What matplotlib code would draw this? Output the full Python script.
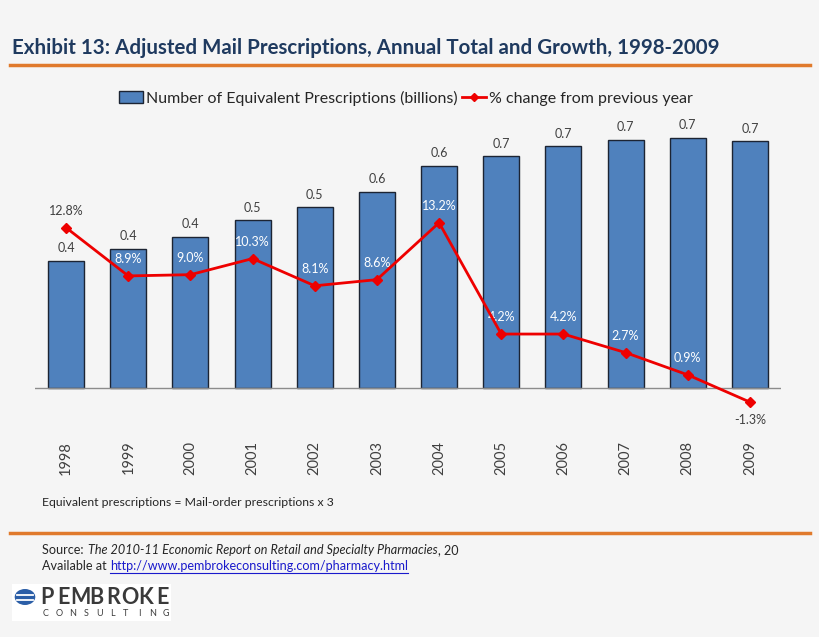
"""Exhibit 13: adjusted mail prescriptions, annual total and growth, 1998-2009."""
import matplotlib
matplotlib.use("Agg")
import matplotlib.pyplot as plt
from matplotlib.lines import Line2D
from matplotlib.patches import Patch, Rectangle, Circle

years = ["1998", "1999", "2000", "2001", "2002", "2003",
         "2004", "2005", "2006", "2007", "2008", "2009"]
scripts_bn = [0.363, 0.397, 0.431, 0.478, 0.515, 0.559,
              0.634, 0.661, 0.689, 0.707, 0.713, 0.703]
pct_change = [12.8, 8.9, 9.0, 10.3, 8.1, 8.6, 13.2, 4.2, 4.2, 2.7, 0.9, -1.3]

bar_label = "Number of Equivalent Prescriptions (billions)"
line_label = "% change from previous year"
title = "Exhibit 13: Adjusted Mail Prescriptions, Annual Total and Growth, 1998-2009"

W, H = 820, 637
BG = "#f5f5f5"
ORANGE = "#e07a2c"
NAVY = "#1f3a5f"
BLUE = "#4f81bd"
RED = "#ee0000"
GREY = "#404040"

plt.rcParams["font.family"] = ["Lato", "DejaVu Sans"]


def fx(x):
    return x / W


def fy(y):
    return 1 - y / H


fig = plt.figure(figsize=(W / 100, H / 100), dpi=100, facecolor=BG)

# ---- header -------------------------------------------------------------- #
fig.text(fx(12), fy(48), title, fontsize=14.8, fontweight="bold", color=NAVY,
         va="center", ha="left")
fig.add_artist(Line2D([fx(10), fx(810)], [fy(65), fy(65)], color=ORANGE, lw=2.5))

# ---- chart --------------------------------------------------------------- #
ax = fig.add_axes([fx(35), fy(420), fx(781) - fx(35), fy(115) - fy(420)])
ax.set_facecolor("none")
x = list(range(len(years)))
ax.bar(x, scripts_bn, width=0.58, color=BLUE, edgecolor="#1c2433", lw=1, zorder=2)
ax.axhline(0, color="#8c8c8c", lw=1, zorder=3)
ax.set_xlim(-0.5, len(years) - 0.5)
ax.set_ylim(-(420 - 388) * 0.00285, (388 - 115) * 0.00285)
for i, v in zip(x, scripts_bn):
    ax.annotate(f"{v:.1f}", (i, v), xytext=(0, 9), textcoords="offset points",
                ha="center", va="center", fontsize=9, color=GREY)
ax.set_xticks(x)
ax.set_xticklabels(years, rotation=90, fontsize=10.5, color=GREY)
ax.tick_params(axis="x", length=0, pad=15)
ax.set_yticks([])
for s in ax.spines.values():
    s.set_visible(False)

ax2 = ax.twinx()
ax2.plot(x, pct_change, color=RED, lw=2, marker="D", ms=5.5, zorder=4)
px_per_pct = 12.37
ax2.set_ylim(-(420 - 386) / px_per_pct, (386 - 115) / px_per_pct)
ax2.set_yticks([])
for s in ax2.spines.values():
    s.set_visible(False)

fig.canvas.draw()
for i, (v, p) in enumerate(zip(scripts_bn, pct_change)):
    top = ax.transData.transform((i, v))[1]
    pt = ax2.transData.transform((i, p))[1]
    if p < 0:
        off, col = -13, GREY
    else:
        off = 12
        col = "white" if pt + off * 100 / 72 + 6 < top else GREY
    ax2.annotate(f"{p:.1f}%", (i, p), xytext=(0, off), textcoords="offset points",
                 ha="center", va="center", fontsize=9, color=col)

# ---- legend -------------------------------------------------------------- #
handles = [Patch(facecolor=BLUE, edgecolor="#1c2433", lw=1, label=bar_label),
           Line2D([], [], color=RED, lw=2, marker="D", ms=4, label=line_label)]
fig.legend(handles=handles, loc="center", bbox_to_anchor=(fx(406), fy(98)),
           ncol=2, frameon=False, fontsize=11.5, handlelength=1.5, handletextpad=0.2,
           columnspacing=0.3, labelcolor="#262626")

# ---- footer -------------------------------------------------------------- #
fig.text(fx(42), fy(502), "Equivalent prescriptions = Mail-order prescriptions x 3",
         fontsize=8.8, color="#262626", va="center")
fig.add_artist(Line2D([fx(10), fx(810)], [fy(533), fy(533)], color=ORANGE, lw=2.5))

renderer = fig.canvas.get_renderer()
xpos = 42
for piece, style in [("Source: ", "normal"),
                     ("The 2010-11 Economic Report on Retail and Specialty Pharmacies", "italic"),
                     (", 20", "normal")]:
    t = fig.text(fx(xpos), fy(550), piece, fontsize=9.1, style=style,
                 color="#262626", va="center")
    xpos += t.get_window_extent(renderer).width + 1

t = fig.text(fx(42), fy(566), "Available at ", fontsize=9.1, color="#262626", va="center")
xl = 42 + t.get_window_extent(renderer).width
link = fig.text(fx(xl), fy(566), "http://www.pembrokeconsulting.com/pharmacy.html",
                fontsize=9.1, color="#1a1acc", va="center")
lw_px = link.get_window_extent(renderer).width
fig.add_artist(Line2D([fx(xl), fx(xl + lw_px)], [fy(572.5), fy(572.5)], color="#1a1acc", lw=0.8))

# logo
fig.add_artist(Rectangle((fx(12), fy(621)), fx(171) - fx(12), fy(584) - fy(621),
                         transform=fig.transFigure, facecolor="white", edgecolor="none"))
fig.add_artist(Circle((fx(25), fy(597)), 8 / H, transform=fig.transFigure,
                      facecolor="#2b5ea7", edgecolor="none"))
for yy in (594.5, 599.5):
    fig.add_artist(Line2D([fx(17), fx(33)], [fy(yy), fy(yy)], color="white", lw=1.3))
for k, ch in enumerate("PEMBROKE"):
    fig.text(fx(47 + k * 16.5), fy(597), ch, fontsize=15.5, fontweight="bold",
             color="#3a3a3a", ha="center", va="center")
for k, ch in enumerate("CONSULTING"):
    fig.text(fx(46 + k * 13.3), fy(614), ch, fontsize=6.5, color="#3d3d3d",
             ha="center", va="center")

fig.savefig("out.png", dpi=100, facecolor=BG)
